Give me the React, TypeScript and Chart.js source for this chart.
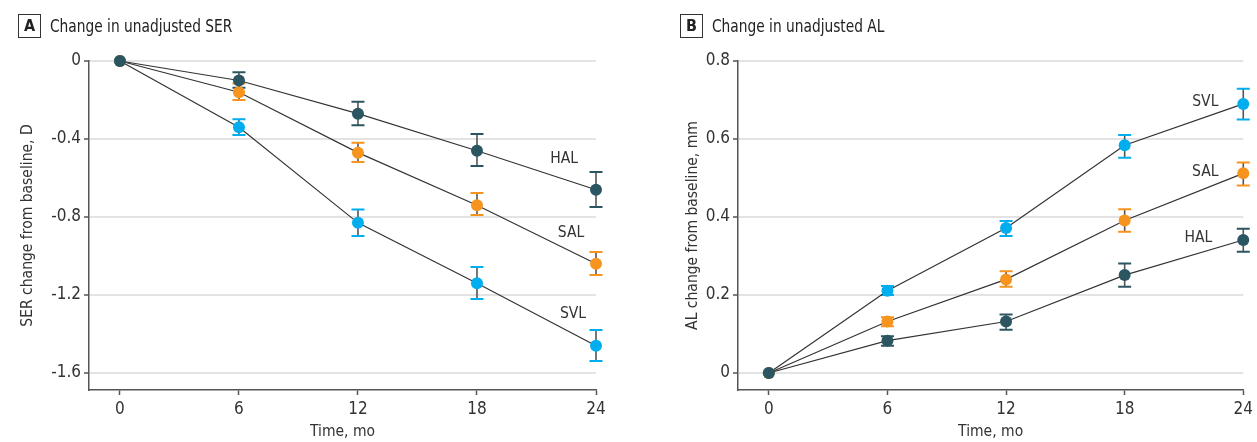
import React, { useEffect, useRef } from "react";
import { Chart, registerables } from "chart.js";
Chart.register(...registerables);

const FONT = "'Liberation Sans Narrow', 'DejaVu Sans Condensed', 'Arial Narrow', sans-serif";
const TEXT = "#333333";

const months = [0, 6, 12, 18, 24];
const xTicks = [0, 6, 12, 18, 24];
const serTicks = [0, -0.4, -0.8, -1.2, -1.6];
const alTicks = [0, 0.2, 0.4, 0.6, 0.8];

// Panel A: SER change (D)
const serHAL = [0, -0.10, -0.27, -0.46, -0.66];
const serHALLow = [0, -0.137, -0.33, -0.538, -0.749];
const serHALHigh = [0, -0.058, -0.209, -0.374, -0.569];
const serSAL = [0, -0.16, -0.47, -0.74, -1.04];
const serSALLow = [0, -0.2, -0.518, -0.79, -1.097];
const serSALHigh = [0, -0.116, -0.419, -0.677, -0.979];
const serSVL = [0, -0.34, -0.83, -1.14, -1.46];
const serSVLLow = [0, -0.379, -0.897, -1.22, -1.538];
const serSVLHigh = [0, -0.299, -0.761, -1.056, -1.379];

// Panel B: AL change (mm)
const alHAL = [0, 0.083, 0.132, 0.251, 0.341];
const alHALLow = [0, 0.07, 0.111, 0.221, 0.311];
const alHALHigh = [0, 0.094, 0.15, 0.281, 0.37];
const alSAL = [0, 0.132, 0.24, 0.391, 0.512];
const alSALLow = [0, 0.12, 0.221, 0.362, 0.481];
const alSALHigh = [0, 0.143, 0.261, 0.42, 0.54];
const alSVL = [0, 0.211, 0.372, 0.584, 0.69];
const alSVLLow = [0, 0.2, 0.351, 0.552, 0.65];
const alSVLHigh = [0, 0.223, 0.39, 0.61, 0.729];

// dataset index 0 is drawn on top by Chart.js
const groupNames = ["HAL", "SAL", "SVL"];
const groupColors = ["#2C5562", "#F7941D", "#00AEEF"];

// label anchors in data coordinates
const serLabelX = [22.39, 22.74, 22.84];
const serLabelY = [-0.503, -0.882, -1.295];
const alLabelX = [21.73, 22.08, 22.08];
const alLabelY = [0.346, 0.515, 0.696];

const errPlugin = {
  id: "errAndLabels",
  beforeDatasetsDraw(chart: any) {
    const { ctx, scales } = chart;
    const xs = scales.x, ys = scales.y;
    const list = [...chart.data.datasets].reverse();
    list.forEach((ds: any) => {
      ds.data.forEach((p: any, i: number) => {
        const lo = ds.errLow[i], hi = ds.errHigh[i];
        if (lo === hi) return;
        const px = xs.getPixelForValue(p.x);
        const y1 = ys.getPixelForValue(lo);
        const y2 = ys.getPixelForValue(hi);
        ctx.save();
        ctx.strokeStyle = "#555555";
        ctx.lineWidth = 1.6;
        ctx.beginPath();
        ctx.moveTo(px, y1);
        ctx.lineTo(px, y2);
        ctx.stroke();
        ctx.strokeStyle = ds.pointBackgroundColor;
        ctx.lineWidth = 2;
        ctx.beginPath();
        ctx.moveTo(px - 6.5, y1);
        ctx.lineTo(px + 6.5, y1);
        ctx.moveTo(px - 6.5, y2);
        ctx.lineTo(px + 6.5, y2);
        ctx.stroke();
        ctx.restore();
      });
    });
  },
  afterDatasetsDraw(chart: any) {
    const { ctx, scales } = chart;
    const xs = scales.x, ys = scales.y;
    chart.data.datasets.forEach((ds: any) => {
      ctx.save();
      ctx.fillStyle = TEXT;
      ctx.font = `15.5px ${FONT}`;
      ctx.textAlign = "center";
      ctx.textBaseline = "middle";
      ctx.fillText(ds.label, xs.getPixelForValue(ds.labelX), ys.getPixelForValue(ds.labelY));
      ctx.restore();
    });
  },
};

function makeDatasets(vals: number[][], lows: number[][], highs: number[][], lx: number[], ly: number[]) {
  return groupNames.map((name, g) => ({
    label: name,
    data: months.map((m, i) => ({ x: m, y: vals[g][i] })),
    errLow: lows[g],
    errHigh: highs[g],
    labelX: lx[g],
    labelY: ly[g],
    borderColor: "#333333",
    borderWidth: 1.2,
    pointBackgroundColor: groupColors[g],
    pointBorderColor: groupColors[g],
    pointRadius: 6,
    pointBorderWidth: 0,
    tension: 0,
    clip: false as any,
  }));
}

function Panel(props: {
  left: number;
  width: number;
  axisWidth: number;
  padRight: number;
  yTitle: string;
  yTitlePad: number;
  yMin: number;
  yMax: number;
  yTickVals: number[];
  datasets: any[];
  letter: string;
  title: string;
  boxLeft: number;
}) {
  const ref = useRef<HTMLCanvasElement | null>(null);
  useEffect(() => {
    if (!ref.current) return;
    const chart = new Chart(ref.current, {
      type: "line",
      data: { datasets: props.datasets },
      plugins: [errPlugin],
      options: {
        animation: false,
        responsive: true,
        maintainAspectRatio: false,
        layout: { padding: { top: 61, right: props.padRight, left: 0, bottom: 0 } },
        plugins: { legend: { display: false }, tooltip: { enabled: false } },
        scales: {
          x: {
            type: "linear",
            min: -1.56,
            max: 24,
            afterFit: (s: any) => {
              s.height = 52;
            },
            afterBuildTicks: (s: any) => {
              s.ticks = xTicks.map((v) => ({ value: v }));
            },
            grid: { drawOnChartArea: false, tickColor: "#555555", tickLength: 5, tickWidth: 1.5 },
            border: { color: "#555555", width: 1.5 },
            ticks: { color: TEXT, font: { family: FONT, size: 17 }, padding: 4, callback: (v: any) => String(v) },
            title: { display: true, text: "Time, mo", color: TEXT, font: { family: FONT, size: 15.5 }, padding: { top: 0, bottom: 1 } },
          },
          y: {
            type: "linear",
            min: props.yMin,
            max: props.yMax,
            afterFit: (s: any) => {
              s.width = props.axisWidth;
            },
            afterBuildTicks: (s: any) => {
              s.ticks = props.yTickVals.map((v) => ({ value: v }));
            },
            grid: { color: "#E3E3E3", lineWidth: 2, tickColor: "#555555", tickLength: 5, tickWidth: 1.5 },
            border: { color: "#555555", width: 1.5 },
            ticks: {
              color: TEXT,
              font: { family: FONT, size: 17 },
              padding: 3,
              callback: (v: any) => (Math.abs(v) < 1e-9 ? "0" : Number(v).toFixed(1)),
            },
            title: { display: true, text: props.yTitle, color: TEXT, font: { family: FONT, size: 15.5 }, padding: { top: props.yTitlePad, bottom: 0 } },
          },
        },
      } as any,
    });
    return () => chart.destroy();
  }, []);
  return (
    <>
      <div style={{ position: "absolute", left: props.left, top: 0, width: props.width, height: 442 }}>
        <canvas ref={ref} />
      </div>
      <div
        style={{
          position: "absolute",
          left: props.boxLeft,
          top: 14,
          width: 23,
          height: 24,
          border: "1px solid #333",
          boxSizing: "border-box",
          fontFamily: FONT,
          fontWeight: 700,
          fontSize: 16,
          lineHeight: "22px",
          textAlign: "center",
          color: "#222",
        }}
      >
        {props.letter}
      </div>
      <div
        style={{
          position: "absolute",
          left: props.boxLeft + 32,
          top: 14,
          height: 24,
          lineHeight: "24px",
          fontFamily: FONT,
          fontSize: 17,
          color: "#222",
          whiteSpace: "nowrap",
          transform: "scaleX(0.9)",
          transformOrigin: "left center",
        }}
      >
        {props.title}
      </div>
    </>
  );
}

export default function App() {
  const serDs = makeDatasets(
    [serHAL, serSAL, serSVL],
    [serHALLow, serSALLow, serSVLLow],
    [serHALHigh, serSALHigh, serSVLHigh],
    serLabelX,
    serLabelY
  );
  const alDs = makeDatasets(
    [alHAL, alSAL, alSVL],
    [alHALLow, alSALLow, alSVLLow],
    [alHALHigh, alSALHigh, alSVLHigh],
    alLabelX,
    alLabelY
  );
  return (
    <div style={{ position: "absolute", left: 0, top: 0, width: 1257, height: 442, background: "#fff", overflow: "hidden" }}>
      <Panel
        left={0}
        width={628}
        axisWidth={89}
        padRight={32}
        yTitle="SER change from baseline, D"
        yTitlePad={19}
        yMin={-1.687}
        yMax={0}
        yTickVals={serTicks}
        datasets={serDs}
        letter="A"
        title="Change in unadjusted SER"
        boxLeft={18}
      />
      <Panel
        left={628}
        width={629}
        axisWidth={110}
        padRight={13}
        yTitle="AL change from baseline, mm"
        yTitlePad={56}
        yMin={-0.0436}
        yMax={0.8}
        yTickVals={alTicks}
        datasets={alDs}
        letter="B"
        title="Change in unadjusted AL"
        boxLeft={680}
      />
    </div>
  );
}
